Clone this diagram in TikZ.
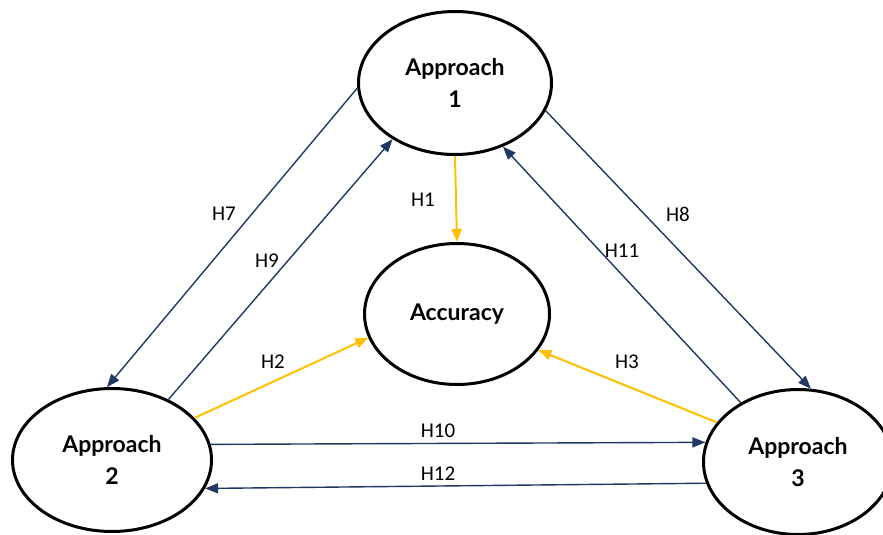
\documentclass[tikz,border=0pt]{standalone}
\usepackage{fontspec}
\setmainfont{Carlito}
\newfontfamily\apfont{Lato}
\usepackage{xcolor}
\usetikzlibrary{shapes.geometric, arrows.meta}

\definecolor{navy}{HTML}{1F3864}
\definecolor{gold}{HTML}{FFC000}

\tikzset{
  approach/.style={ellipse, draw=black, line width=3pt, fill=white, inner sep=0pt,
    align=center, font=\apfont\bfseries\fontsize{23}{32}\selectfont},
  hyp/.style={draw=navy, line width=1.4pt, -{Triangle[length=13pt,width=10pt]}},
  hypacc/.style={draw=gold, line width=2pt, -{Triangle[length=13pt,width=10pt]}},
  hlabel/.style={font=\fontsize{21}{24}\selectfont, inner sep=0pt}
}

\begin{document}
\begin{tikzpicture}[x=1pt, y=-1pt]
        \useasboundingbox (0,0) rectangle (883,535);

        % Approaches and the outcome
        \node[approach, minimum width=193pt, minimum height=143pt] (app1) at (455,83) {Approach\\1};
        \node[approach, minimum width=185pt, minimum height=141pt] (acc) at (457,314) {Accuracy};
        \node[approach, minimum width=199pt, minimum height=143pt] (app2) at (112,460) {Approach\\2};
        \node[approach, minimum width=189pt, minimum height=145pt] (app3) at (798,462) {Approach\\3};

        % Paths to accuracy
        \draw[hypacc] (app1.270) -- (acc.90);
        \draw[hypacc] (app2.27) -- (acc.195);
        \draw[hypacc] (app3.154) -- (acc.336);

        % Paths between approaches
        \draw[hyp] (app1.183) -- (app2.94);
        \draw[hyp] (app2.47) -- (app1.222);
        \draw[hyp] (app1.343) -- (app3.80);
        \draw[hyp] (app3.134) -- (app1.307);
        \draw[hyp] (app2.9) -- (app3.168);
        \draw[hyp] (app3.193) -- (app2.343);

        % Hypothesis labels
        \node[hlabel] (h1) at (423,200) {H1};
        \node[hlabel] (h2) at (273,362) {H2};
        \node[hlabel] (h3) at (627,362) {H3};
        \node[hlabel] (h7) at (224,214) {H7};
        \node[hlabel] (h8) at (678,214) {H8};
        \node[hlabel] (h9) at (267,261) {H9};
        \node[hlabel] (h10) at (438,431) {H10};
        \node[hlabel] (h11) at (622,251) {H11};
        \node[hlabel] (h12) at (438,474) {H12};
      \end{tikzpicture}
\end{document}
